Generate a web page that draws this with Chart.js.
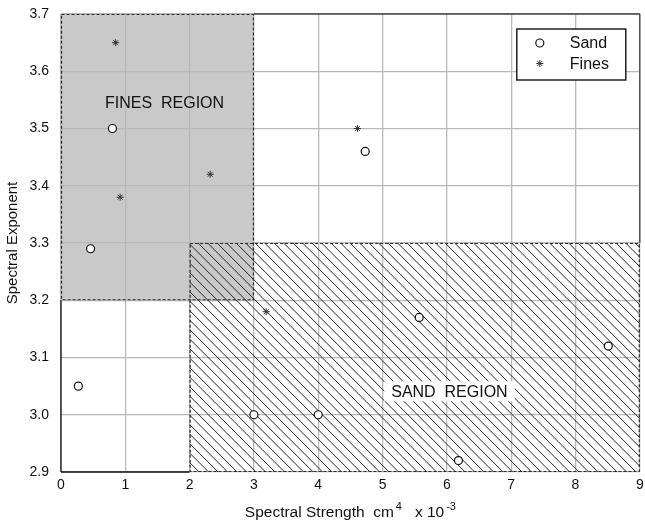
<!DOCTYPE html>
<html>
<head>
<meta charset="utf-8">
<script src="https://cdn.jsdelivr.net/npm/chart.js@4.4.1/dist/chart.umd.min.js"></script>
<style>
  html, body { margin: 0; padding: 0; background: #fff; }
  #wrap { width: 645px; height: 520px; }
</style>
</head>
<body>
<div id="wrap"><canvas id="c" width="645" height="520"></canvas></div>
<script>
// Axis ticks
const xTicks = [0, 1, 2, 3, 4, 5, 6, 7, 8, 9];
const yTicks = [2.9, 3.0, 3.1, 3.2, 3.3, 3.4, 3.5, 3.6, 3.7];

// Sand samples (spectral strength x 10^-3 cm^4, spectral exponent)
const sandX = [0.80, 0.46, 0.27, 4.73, 3.00, 4.00, 5.57, 6.18, 8.51];
const sandY = [3.50, 3.29, 3.05, 3.46, 3.00, 3.00, 3.17, 2.92, 3.12];

// Fines samples
const finesX = [0.85, 0.92, 2.32, 4.61, 3.19];
const finesY = [3.65, 3.38, 3.42, 3.50, 3.18];

// Classification regions: [xMin, xMax, yMin, yMax]
const finesRegion = [0, 3, 3.2, 3.7];
const sandRegion = [2, 9, 2.9, 3.3];
const regionNames = ['FINES  REGION', 'SAND  REGION'];
const regionNameAt = [[1.61, 3.546], [6.04, 3.041]];

// x-axis title pieces: [text, superscript?]
const xTitleParts = [['Spectral Strength  cm', false], ['4', true], ['   x 10', false], ['-3', true]];

const FONT = "'Liberation Sans', Arial, Helvetica, sans-serif";
const toPts = (xs, ys) => xs.map((x, i) => ({ x: x, y: ys[i] }));

function regionPx(chart, r) {
  const xs = chart.scales.x, ys = chart.scales.y;
  return {
    l: xs.getPixelForValue(r[0]), r: xs.getPixelForValue(r[1]),
    b: ys.getPixelForValue(r[2]), t: ys.getPixelForValue(r[3])
  };
}

function hatch(ctx, p, gap) {
  ctx.save();
  ctx.beginPath();
  ctx.rect(p.l, p.t, p.r - p.l, p.b - p.t);
  ctx.clip();
  ctx.beginPath();
  const h = p.b - p.t;
  for (let c = p.l - h; c < p.r + gap; c += gap) {
    ctx.moveTo(c, p.t);
    ctx.lineTo(c + h, p.b);
  }
  ctx.strokeStyle = '#262626';
  ctx.lineWidth = 1;
  ctx.stroke();
  ctx.restore();
}

function line(ctx, x0, y0, x1, y1) {
  ctx.beginPath(); ctx.moveTo(x0, y0); ctx.lineTo(x1, y1); ctx.stroke();
}

const regionsPlugin = {
  id: 'regions',
  beforeDraw(chart) {
    const ctx = chart.ctx;
    const f = regionPx(chart, finesRegion);
    ctx.save();
    ctx.fillStyle = '#c9c9c9';
    ctx.fillRect(f.l, f.t, f.r - f.l, f.b - f.t);
    ctx.restore();
  },
  beforeDatasetsDraw(chart) {
    const ctx = chart.ctx;
    const a = chart.chartArea;
    const f = regionPx(chart, finesRegion);
    const s = regionPx(chart, sandRegion);

    hatch(ctx, s, 9.5);

    // plot frame where no region edge runs along it
    ctx.save();
    ctx.strokeStyle = '#111';
    ctx.lineWidth = 1.3;
    line(ctx, a.left, a.bottom, a.left, f.b);
    line(ctx, a.left, a.bottom, s.l, a.bottom);
    ctx.strokeStyle = '#444';
    line(ctx, f.r, a.top, a.right, a.top);
    line(ctx, a.right, a.top, a.right, s.t);
    ctx.restore();

    // dashed region outlines
    ctx.save();
    ctx.setLineDash([3, 2]);
    ctx.strokeStyle = '#2a2a2a';
    ctx.lineWidth = 1.2;
    ctx.strokeRect(f.l + 0.5, f.t + 0.5, f.r - f.l - 1, f.b - f.t - 1);
    ctx.strokeRect(s.l + 0.5, s.t + 0.5, s.r - s.l - 1, s.b - s.t - 1);
    ctx.restore();

    // region names
    ctx.save();
    ctx.font = '16px ' + FONT;
    ctx.textAlign = 'center';
    ctx.textBaseline = 'middle';
    regionNames.forEach((name, i) => {
      const px = chart.scales.x.getPixelForValue(regionNameAt[i][0]);
      const py = chart.scales.y.getPixelForValue(regionNameAt[i][1]);
      if (i === 1) {
        const w = ctx.measureText(name).width + 14;
        ctx.fillStyle = '#fff';
        ctx.fillRect(px - w / 2, py - 10, w, 20);
      }
      ctx.fillStyle = '#111';
      ctx.fillText(name, px, py + 1);
    });
    ctx.restore();
  },
  afterDatasetsDraw(chart) {
    const ctx = chart.ctx;
    const a = chart.chartArea;
    const bx = a.right - 123, by = a.top + 15, bw = 109, bh = 51;
    ctx.save();
    ctx.fillStyle = '#fff';
    ctx.fillRect(bx, by, bw, bh);
    ctx.strokeStyle = '#111';
    ctx.lineWidth = 1.4;
    ctx.strokeRect(bx, by, bw, bh);
    chart.data.datasets.forEach((ds, i) => {
      const my = by + 14 + i * 20.5;
      ctx.fillStyle = ds.backgroundColor;
      ctx.strokeStyle = ds.borderColor;
      ctx.lineWidth = ds.borderWidth;
      Chart.helpers.drawPoint(ctx, {
        pointStyle: ds.pointStyle, radius: ds.pointRadius,
        borderWidth: ds.borderWidth, rotation: 0
      }, bx + 23, my);
      ctx.fillStyle = '#111';
      ctx.font = '16px ' + FONT;
      ctx.textAlign = 'left';
      ctx.textBaseline = 'middle';
      ctx.fillText(ds.label, bx + 53, my + 1);
    });
    ctx.restore();
  },
  afterDraw(chart) {
    // x-axis title with raised exponents
    const ctx = chart.ctx;
    const a = chart.chartArea;
    const big = '15.5px ' + FONT, small = '11px ' + FONT;
    ctx.save();
    ctx.textBaseline = 'alphabetic';
    ctx.textAlign = 'left';
    ctx.fillStyle = '#111';
    let total = 0;
    xTitleParts.forEach(p => { ctx.font = p[1] ? small : big; total += ctx.measureText(p[0]).width + (p[1] ? 2 : 0); });
    let x = (a.left + a.right) / 2 - total / 2;
    const base = 517;
    xTitleParts.forEach(p => {
      ctx.font = p[1] ? small : big;
      if (p[1]) x += 2;
      ctx.fillText(p[0], x, p[1] ? base - 7 : base);
      x += ctx.measureText(p[0]).width;
    });
    ctx.restore();
  }
};

const gridOpts = { color: '#b8b8b8', lineWidth: 1.3, drawTicks: false };

new Chart(document.getElementById('c'), {
  type: 'scatter',
  data: {
    datasets: [
      {
        label: 'Sand',
        data: toPts(sandX, sandY),
        pointStyle: 'circle',
        pointRadius: 4,
        backgroundColor: '#fff',
        borderColor: '#111',
        borderWidth: 1.2
      },
      {
        label: 'Fines',
        data: toPts(finesX, finesY),
        pointStyle: 'star',
        pointRadius: 3.5,
        backgroundColor: '#333',
        borderColor: '#333',
        borderWidth: 1
      }
    ]
  },
  options: {
    responsive: false,
    animation: false,
    devicePixelRatio: 1,
    layout: { padding: { top: 14, right: 4, left: 0, bottom: 0 } },
    plugins: { legend: { display: false }, tooltip: { enabled: false } },
    scales: {
      x: {
        type: 'linear',
        min: 0, max: 9,
        afterBuildTicks: s => { s.ticks = xTicks.map(v => ({ value: v })); },
        afterFit: s => { s.height = 48; s.paddingLeft = 0; s.paddingRight = 0; },
        grid: gridOpts,
        border: { display: false },
        ticks: {
          padding: 5,
          color: '#111',
          font: { family: FONT, size: 14 },
          callback: v => String(v)
        },
        title: { display: false }
      },
      y: {
        type: 'linear',
        min: 2.9, max: 3.7,
        afterBuildTicks: s => { s.ticks = yTicks.map(v => ({ value: v })); },
        afterFit: s => { s.width = 61; s.paddingTop = 0; s.paddingBottom = 0; },
        grid: gridOpts,
        border: { display: false },
        ticks: {
          padding: 12,
          color: '#111',
          font: { family: FONT, size: 14 },
          callback: v => Number(v).toFixed(1)
        },
        title: {
          display: true,
          text: 'Spectral Exponent',
          color: '#111',
          font: { family: FONT, size: 15 },
          padding: { top: 4, bottom: 0 }
        }
      }
    }
  },
  plugins: [regionsPlugin]
});
</script>
</body>
</html>
